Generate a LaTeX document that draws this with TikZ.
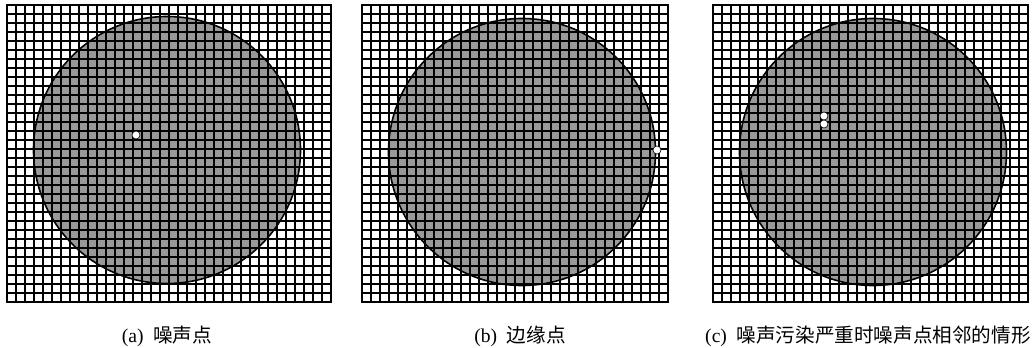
\documentclass[tikz,border=0pt]{standalone}
\usepackage{fontspec}
\setmainfont{Liberation Serif}
\newfontfamily\cjk{Noto Sans CJK SC}
\definecolor{diskgray}{RGB}{153,153,153}
\tikzset{gridline/.style={line width=.7pt},frameline/.style={line width=1pt},
  rim/.style={line width=.8pt},noise/.style={fill=white,draw=black,line width=.3pt}}
\begin{document}
\begin{tikzpicture}[x=.5pt,y=-.5pt,font=\fontsize{9.8pt}{11pt}\selectfont]
\useasboundingbox (0,0) rectangle (1035,348);
\foreach \px/\cols/\rows/\cx/\cy in {7/36/33/160/145,362/34/33/160/147,713/35/33/160/147}{\begin{scope}[shift={(\px,5)}]
\fill[diskgray] (\cx,\cy) circle[radius=66.75pt];
\foreach \i in {0,...,\cols}\draw[gridline] (\i*9,0)--(\i*9,\rows*9);
\foreach \j in {0,...,\rows}\draw[gridline] (0,\j*9)--(\cols*9,\j*9);
\draw[frameline] (0,0) rectangle (\cols*9,\rows*9);
\draw[rim] (\cx,\cy) circle[radius=66.75pt];
\end{scope}}
% white noise points
\fill[noise] (136,135) circle[radius=2pt];
\fill[noise] (657,150) circle[radius=2pt];
\fill[noise] (824,116) circle[radius=2pt];\fill[noise] (824,124) circle[radius=2pt];
\node (capa) at (167,336){(a)\hspace{.5em}{\cjk 噪声点}};
\node (capb) at (520,336){(b)\hspace{.5em}{\cjk 边缘点}};
\node (capc) at (868,336){(c)\hspace{.5em}{\cjk 噪声污染严重时噪声点相邻的情形}};
\end{tikzpicture}
\end{document}
